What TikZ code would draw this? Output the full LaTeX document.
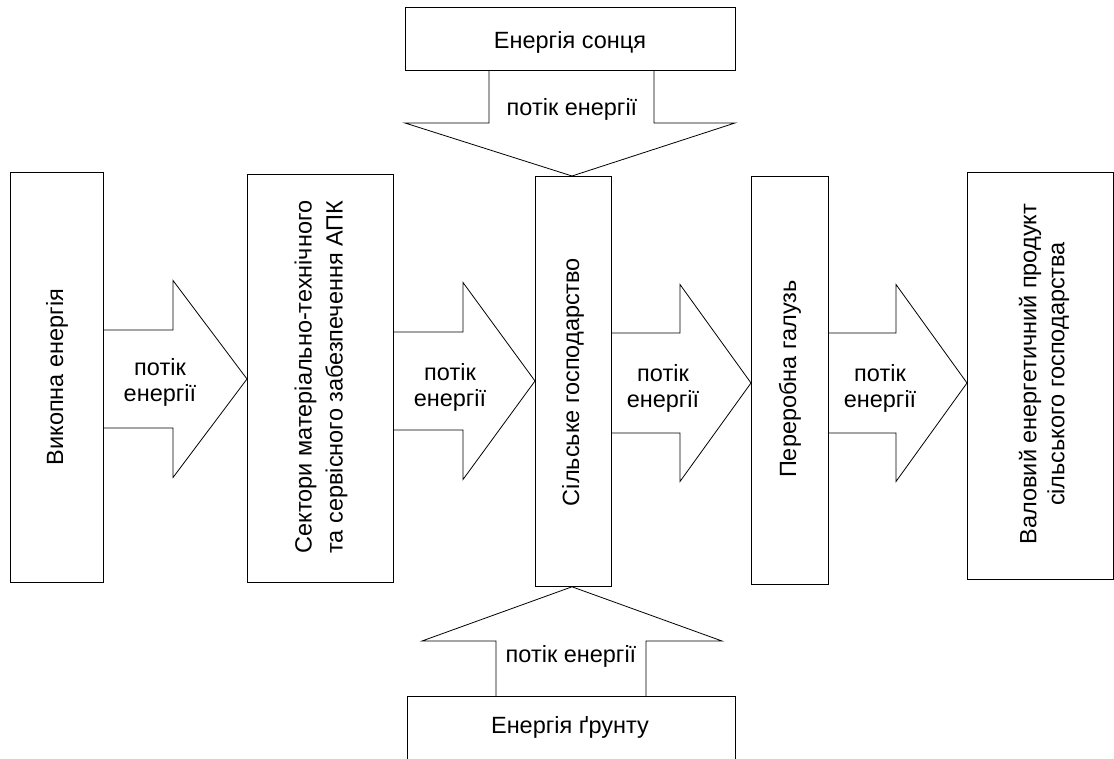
\documentclass[tikz,border=0pt]{standalone}
\usepackage{fontspec}
\setmainfont{Liberation Sans}
\usetikzlibrary{calc}
\begin{document}
\begin{tikzpicture}[x=1pt,y=1pt,line width=0.8pt,
  box/.style={draw,rectangle,inner sep=0pt,anchor=north west},
  txt/.style={font=\fontsize{23.5}{26}\selectfont,inner sep=0pt},
  vtxt/.style={txt,rotate=90,align=center},
  flow/.style={draw,line join=miter}]
\clip (0,0) rectangle (1114,758);
\useasboundingbox (0,0) rectangle (1114,758);
% boxes
\node[box,minimum width=93,minimum height=410] (b1) at (10,586) {};
\node[box,minimum width=146,minimum height=408] (b2) at (247,584) {};
\node[box,minimum width=76,minimum height=410] (b3) at (535,582) {};
\node[box,minimum width=77,minimum height=408] (b4) at (751,582) {};
\node[box,minimum width=146,minimum height=407] (b5) at (967,586) {};
\node[box,minimum width=330,minimum height=63] (sun) at (405,751) {};
\node[box,minimum width=328,minimum height=90] (soil) at (407,62) {};
% box texts
\node[vtxt] (t1) at (57,381) {Викопна енергія};
\node[vtxt,font=\fontsize{23.5}{31}\selectfont] (t2) at (321,381) {Сектори матеріально-технічного\\та сервісного забезпечення АПК};
\node[vtxt] (t3) at (573,376) {Сільське господарство};
\node[vtxt] (t4) at (790,379) {Переробна галузь};
\node[vtxt,font=\fontsize{23.5}{28}\selectfont] (t5) at (1044,384) {Валовий енергетичний продукт\\сільського господарства};
\node[txt,anchor=base] (tsun) at (570,709) {Енергія сонця};
\node[txt,anchor=base] (tsoil) at (570,25) {Енергія ґрунту};
% horizontal flow arrows
\draw[flow] let \p1=(b1.east), \p2=(b2.west) in
  (\x1,379+49) -- (173,379+49) -- (173,379+98.5) -- (\x2,379)
  -- (173,379-98.5) -- (173,379-49) -- (\x1,379-49);
\draw[flow] let \p1=(b2.east), \p2=(b3.west) in
  (\x1,377+49) -- (463,377+49) -- (463,377+98.5) -- (\x2,377)
  -- (463,377-98.5) -- (463,377-49) -- (\x1,377-49);
\draw[flow] let \p1=(b3.east), \p2=(b4.west) in
  (\x1,375+50) -- (680,375+50) -- (680,375+98.5) -- (\x2,375)
  -- (680,375-98.5) -- (680,375-50) -- (\x1,375-50);
\draw[flow] let \p1=(b4.east), \p2=(b5.west) in
  (\x1,375+50) -- (896,375+50) -- (896,375+98.5) -- (\x2,375)
  -- (896,375-98.5) -- (896,375-50) -- (\x1,375-50);
% vertical flow arrows
\draw[flow] let \p1=(sun.south), \p2=(b3.north) in
  (489,\y1) -- (489,635) -- (405,635) -- (572,\y2)
  -- (735,635) -- (654,635) -- (654,\y1);
\draw[flow] let \p1=(soil.north), \p2=(b3.south) in
  (496,\y1) -- (496,117) -- (422,117) -- (572,\y2)
  -- (722,117) -- (646,117) -- (646,\y1);
% flow labels (base = baseline of the last line)
\node[txt,anchor=base,align=center] (f1) at (160,356) {потік\\енергії};
\node[txt,anchor=base,align=center] (f2) at (450,351) {потік\\енергії};
\node[txt,anchor=base,align=center] (f3) at (663,350) {потік\\енергії};
\node[txt,anchor=base,align=center] (f4) at (880,350) {потік\\енергії};
\node[txt,anchor=base] (fsun) at (572,642) {потік енергії};
\node[txt,anchor=base] (fsoil) at (571,95) {потік енергії};
\end{tikzpicture}
\end{document}
